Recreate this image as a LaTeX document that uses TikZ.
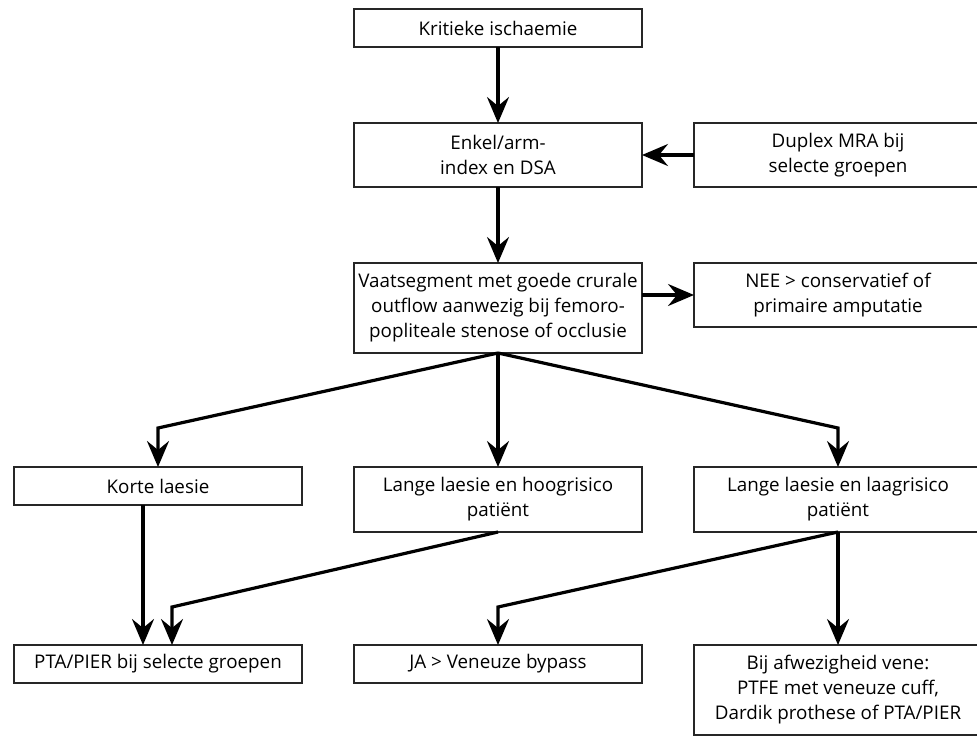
\documentclass[tikz,border=0pt]{standalone}
\usepackage{fontspec}
\setmainfont{Open Sans}
\usetikzlibrary{arrows.meta,positioning}

\begin{document}
\begin{tikzpicture}[
  font=\fontsize{18.8}{25}\selectfont,
  box/.style={draw=black!85, line width=1.4pt, align=center, inner sep=2pt, outer sep=0pt, minimum width=288pt, minimum height=38pt},
  arr/.style={-{Stealth[length=26pt, width=22pt, inset=9pt]}, line width=3.2pt}
]
\useasboundingbox (0,0) rectangle (977pt,-737pt);

\node[box] (kri) at (498pt,-28pt) {Kritieke ischaemie};
\node[box, minimum height=64pt, below=76pt of kri] (enkel) {Enkel/arm-\\index en DSA};
\node[box, minimum height=64pt, right=52pt of enkel] (dup) {Duplex MRA bij\\selecte groepen};
\node[box, minimum height=90pt, below=76pt of enkel] (vaat) {Vaatsegment met goede crurale\\outflow aanwezig bij femoro-\\popliteale stenose of occlusie};
\node[box, minimum height=64pt, anchor=north west] (nee) at ([xshift=52pt]vaat.north east) {NEE > conservatief of\\primaire amputatie};

\node[box, minimum height=65pt, below=114pt of vaat] (lhoog) {Lange laesie en hoogrisico\\patiënt};
\node[box, anchor=north east] (korte) at ([xshift=-52pt]lhoog.north west) {Korte laesie};
\node[box, minimum height=65pt, anchor=north west] (llaag) at ([xshift=52pt]lhoog.north east) {Lange laesie en laagrisico\\patiënt};

\node[box, below=113pt of lhoog] (ja) {JA > Veneuze bypass};
\node[box, anchor=north east] (pta) at ([xshift=-52pt]ja.north west) {PTA/PIER bij selecte groepen};
\node[box, minimum height=90pt, anchor=north west] (bij) at ([xshift=52pt]ja.north east) {Bij afwezigheid vene:\\PTFE met veneuze cuff,\\Dardik prothese of PTA/PIER};

\draw[arr] (kri) -- (enkel);
\draw[arr] (dup) -- (enkel);
\draw[arr] (enkel) -- (vaat);
\draw[arr] (nee.west -| vaat.east) -- (nee.west);

\draw[arr] (vaat.south) -- ([yshift=39pt]korte.north) -- (korte.north);
\draw[arr] (vaat.south) -- (lhoog.north);
\draw[arr] (vaat.south) -- ([yshift=39pt]llaag.north) -- (llaag.north);

\draw[arr] ([xshift=-15pt]korte.south) -- ([xshift=-15pt]pta.north);
\draw[arr] (lhoog.south) -- ([xshift=14pt, yshift=38pt]pta.north) -- ([xshift=14pt]pta.north);
\draw[arr] (llaag.south) -- ([yshift=38pt]ja.north) -- (ja.north);
\draw[arr] (llaag.south) -- (bij.north);
\end{tikzpicture}
\end{document}
